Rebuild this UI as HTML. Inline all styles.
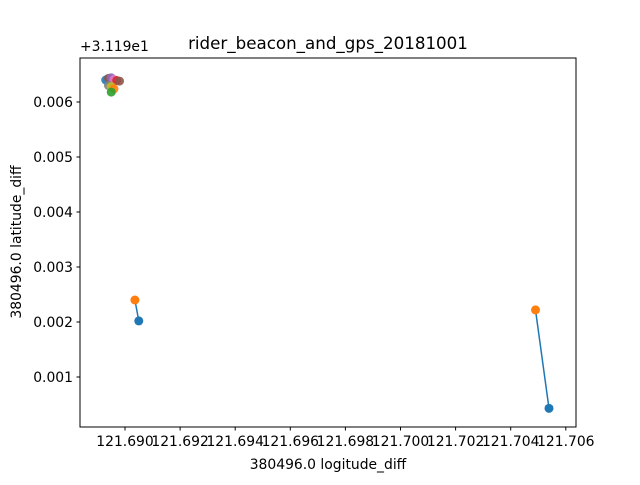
<!DOCTYPE html>
<html><head><meta charset="utf-8"><style>
body{margin:0;background:#fff;font-family:"Liberation Sans","DejaVu Sans",sans-serif}
svg text{font-family:"DejaVu Sans","Liberation Sans",sans-serif;font-size:13.9px;fill:#000}
</style></head><body>
<svg id="c" width="640" height="480">
<rect x="0" y="0" width="640" height="480" fill="#fff"/>
<text x="328" y="49" text-anchor="middle" style="font-size:16.7px">rider_beacon_and_gps_20181001</text>
<text x="80" y="51">+3.119e1</text>
<text x="328" y="469" text-anchor="middle">380496.0 logitude_diff</text>
<text transform="translate(21,242) rotate(-90)" text-anchor="middle">380496.0 latitude_diff</text>
<g id="marks"></g><g id="axes"></g>
</svg>
<script>
const xTicks=[121.690,121.692,121.694,121.696,121.698,121.700,121.702,121.704,121.706];
const yTicks=[0.001,0.002,0.003,0.004,0.005,0.006];
// segments: blue (beacon) to orange (gps)
const lineX1=[121.6905,121.70539];
const lineY1=[0.00202,0.00043];
const lineX2=[121.69036,121.7049];
const lineY2=[0.0024,0.00222];
// cluster points
const clusterX=[121.6893,121.6894,121.6895,121.6896,121.6897,121.6898,121.6894,121.6895,121.6896,121.6895];
const clusterY=[0.00640,0.00643,0.00644,0.00641,0.00639,0.00638,0.00630,0.00628,0.00624,0.00618];
const clusterC=['#1f77b4','#8c564b','#9467bd','#e377c2','#d62728','#8c564b','#7f7f7f','#bcbd22','#ff7f0e','#2ca02c'];
const sx=v=>125+(v-121.690)/0.002*55.1;
const sy=v=>102+(0.006-v)/0.001*55;
const NS='http://www.w3.org/2000/svg';
const m=document.getElementById('marks'),a=document.getElementById('axes');
function mk(t,at,p){const e=document.createElementNS(NS,t);for(const k in at)e.setAttribute(k,at[k]);p.appendChild(e);return e;}
for(let i=0;i<lineX1.length;i++){
 const l=mk('line',{x1:sx(lineX1[i]),y1:sy(lineY1[i]),x2:sx(lineX2[i]),y2:sy(lineY2[i]),stroke:'#1f77b4','stroke-width':1.5},m);
 
 
 const b=mk('circle',{cx:sx(lineX1[i]),cy:sy(lineY1[i]),r:4.5,fill:'#1f77b4'},m);
 
 
 const o=mk('circle',{cx:sx(lineX2[i]),cy:sy(lineY2[i]),r:4.5,fill:'#ff7f0e'},m);
 
 
}
for(let i=0;i<clusterX.length;i++){
 const c=mk('circle',{cx:sx(clusterX[i]),cy:sy(clusterY[i]),r:4.5,fill:clusterC[i],opacity:0.9},m);
 
 
}
const f=mk('rect',{x:80,y:58,width:496,height:369,fill:'none',stroke:'#000','stroke-width':1},a);


xTicks.forEach(v=>{const x=sx(v);
 mk('line',{x1:x,y1:427,x2:x,y2:430.5,stroke:'#000'},a);
 const t=mk('text',{x:x,y:446,'text-anchor':'middle'},a);t.textContent=v.toFixed(3);
 
 });
yTicks.forEach(v=>{const y=sy(v);
 mk('line',{x1:76.5,y1:y,x2:80,y2:y,stroke:'#000'},a);
 const t=mk('text',{x:73,y:y+5,'text-anchor':'end'},a);t.textContent=v.toFixed(3);
 
 });
</script>
</body></html>
